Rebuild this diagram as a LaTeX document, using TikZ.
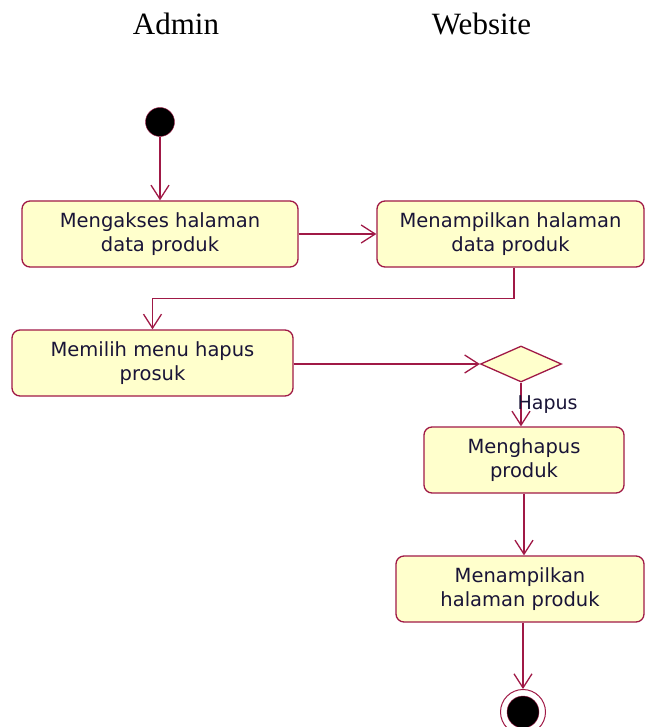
\documentclass[tikz,border=0pt]{standalone}
\usepackage{fontspec}
\setmainfont{Liberation Serif}
\newfontfamily\actfont{DejaVu Sans}
\usepackage{tikz}
\usetikzlibrary{shapes.geometric, arrows.meta, positioning}
\definecolor{actborder}{RGB}{160,25,70}
\definecolor{actfill}{RGB}{255,255,204}
\definecolor{acttext}{RGB}{25,20,55}
\tikzset{
  actbox/.style={
    draw=actborder, fill=actfill, rounded corners=8pt, line width=1.3pt,
    align=center, font=\actfont\fontsize{19.5}{24.5}\selectfont, text=acttext,
    minimum height=66pt, inner sep=2pt
  },
  decision/.style={
    diamond, draw=actborder, fill=actfill, line width=1.3pt,
    minimum width=81pt, minimum height=36pt, inner sep=0pt, aspect=2.25
  },
  flow/.style={
    -{Straight Barb[length=14pt,width=18pt]}, draw=actborder, line width=1.3pt
  },
  swimhead/.style={
    font=\fontsize{31}{36}\selectfont, anchor=base, inner sep=0pt
  },
  flowlabel/.style={
    font=\actfont\fontsize{19}{22}\selectfont, text=acttext, anchor=west, inner sep=0pt
  },
  startdot/.style={
    circle, draw=actborder, fill=black, minimum size=29pt, inner sep=0pt
  },
  endring/.style={
    circle, draw=actborder, fill=white, line width=1pt, minimum size=45pt, inner sep=0pt
  },
  enddot/.style={
    circle, draw=actborder, fill=black, minimum size=32pt, inner sep=0pt
  },
}
\begin{document}
\begin{tikzpicture}[x=1pt, y=-1pt]
  \useasboundingbox (0,0) rectangle (645,727);
  % swimlane headers
  \node[swimhead] (admin) at (176,35) {Admin};
  \node[swimhead] (web) at (481.5,35) {Website};

  \node[startdot] (start) at (160,122) {};
  \node[actbox, minimum width=276pt] (akses) at (160,234) {Mengakses halaman\\data produk};
  \node[actbox, minimum width=267pt] (tampil) at (510.5,234) {Menampilkan halaman\\data produk};
  \node[actbox, minimum width=281pt] (pilih) at (152.5,363) {Memilih menu hapus\\prosuk};
  \node[decision] (decide) at (521,364) {};
  \node[actbox, minimum width=200pt] (hapus) at (524,460) {Menghapus\\produk};
  \node[actbox, minimum width=248pt] (tampilproduk) at (520,589) {Menampilkan\\halaman produk};
  \node[endring] (finish) at (523,712) {};
  \node[enddot] at (finish) {};

  \draw[flow] (start) -- (akses);
  \draw[flow] (akses) -- (tampil);
  \draw[flow] ([xshift=3.5pt]tampil.south) -- ++(0,31) -| (pilih.north);
  \draw[flow] (pilih.east |- decide.west) -- (decide.west);
  \draw[flow] (decide.south) -- node[flowlabel, xshift=-4pt] {Hapus} (decide.south |- hapus.north);
  \draw[flow] (hapus) -- (hapus |- tampilproduk.north);
  \draw[flow] (finish |- tampilproduk.south) -- (finish.north);
\end{tikzpicture}
\end{document}
